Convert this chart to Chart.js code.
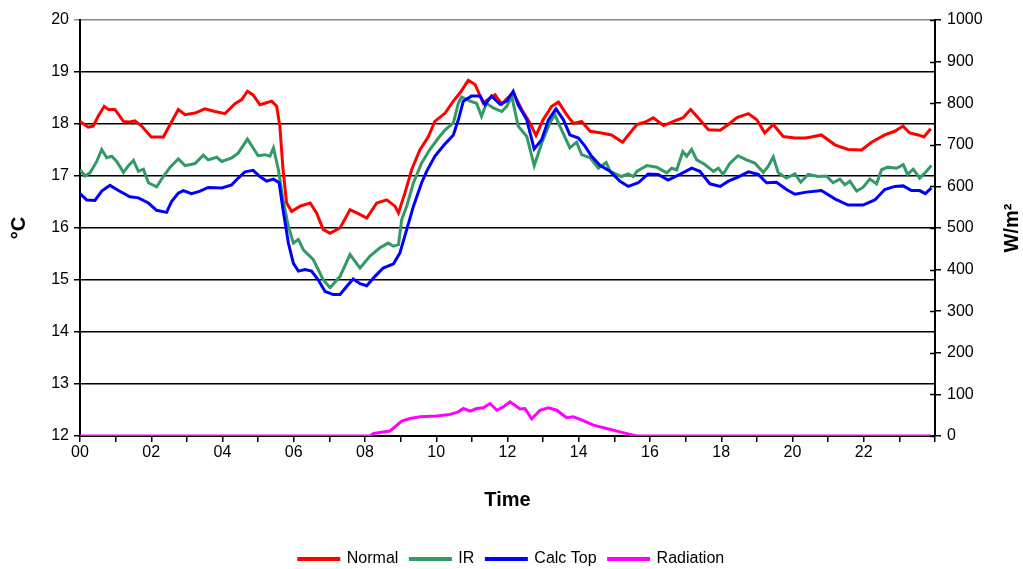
<!DOCTYPE html>
<html>
<head>
<meta charset="utf-8">
<script src="https://cdn.jsdelivr.net/npm/chart.js@4/dist/chart.umd.min.js"></script>
<style>
  html, body { margin: 0; padding: 0; background: #ffffff; }
  #wrap { width: 1023px; height: 569px; }
</style>
</head>
<body>
<div id="wrap"><canvas id="chart" width="1023" height="569"></canvas></div>
<script>
// Temperature traces over one day (hour of day -> °C)
const normalHours = [0,0.23,0.37,0.51,0.68,0.8,0.98,1.22,1.4,1.54,1.73,2.0,2.34,2.53,2.76,2.95,3.23,3.5,3.79,4.07,4.35,4.54,4.7,4.86,5.05,5.19,5.38,5.52,5.61,5.7,5.8,5.94,6.18,6.46,6.64,6.83,7.02,7.3,7.58,7.77,8.05,8.33,8.61,8.84,8.94,9.12,9.31,9.54,9.78,9.96,10.25,10.48,10.67,10.9,11.09,11.32,11.51,11.65,11.84,12.0,12.16,12.4,12.63,12.8,13.0,13.24,13.43,13.66,13.85,14.08,14.32,14.6,14.92,15.23,15.63,15.91,16.09,16.38,16.66,16.93,17.14,17.4,17.64,17.97,18.2,18.43,18.76,19.0,19.22,19.46,19.74,20.07,20.35,20.53,20.81,21.19,21.56,21.94,22.22,22.59,22.87,23.1,23.29,23.53,23.69,23.88];
const normalTemp = [18.05,17.94,17.96,18.15,18.34,18.28,18.28,18.05,18.04,18.06,17.96,17.75,17.75,17.99,18.28,18.18,18.21,18.29,18.24,18.2,18.39,18.47,18.63,18.56,18.37,18.4,18.44,18.34,17.96,17.12,16.48,16.32,16.42,16.48,16.29,15.97,15.9,16.0,16.35,16.29,16.19,16.48,16.54,16.42,16.29,16.67,17.12,17.5,17.76,18.05,18.21,18.44,18.6,18.84,18.76,18.4,18.5,18.56,18.38,18.5,18.6,18.28,18.02,17.78,18.08,18.34,18.42,18.18,18.01,18.05,17.86,17.83,17.79,17.65,17.99,18.05,18.12,17.97,18.05,18.12,18.28,18.08,17.89,17.88,17.99,18.12,18.2,18.08,17.83,17.99,17.76,17.73,17.73,17.75,17.79,17.6,17.51,17.5,17.65,17.79,17.86,17.96,17.83,17.79,17.75,17.91];

const irHours = [0,0.14,0.28,0.47,0.61,0.75,0.89,1.03,1.22,1.36,1.5,1.64,1.78,1.92,2.15,2.34,2.53,2.76,2.95,3.23,3.46,3.6,3.84,3.98,4.26,4.44,4.7,5.0,5.19,5.33,5.43,5.57,5.7,5.85,5.99,6.13,6.27,6.55,6.83,7.02,7.3,7.58,7.86,8.14,8.42,8.65,8.8,8.94,9.03,9.17,9.36,9.59,9.82,10.06,10.25,10.48,10.62,10.71,10.95,11.13,11.27,11.41,11.6,11.84,11.98,12.12,12.3,12.54,12.75,12.96,13.19,13.33,13.47,13.75,13.94,14.08,14.32,14.55,14.77,14.88,15.2,15.39,15.53,15.63,15.91,16.19,16.47,16.61,16.75,16.92,17.03,17.17,17.31,17.54,17.78,17.92,18.05,18.24,18.47,18.71,18.94,19.18,19.32,19.46,19.6,19.83,20.07,20.23,20.44,20.72,20.95,21.14,21.33,21.47,21.61,21.8,21.98,22.17,22.36,22.5,22.68,22.92,23.11,23.23,23.39,23.57,23.76,23.9];
const irTemp = [17.12,17.0,17.06,17.28,17.51,17.35,17.38,17.28,17.07,17.2,17.3,17.09,17.13,16.87,16.79,16.99,17.17,17.33,17.2,17.24,17.4,17.31,17.36,17.28,17.35,17.44,17.71,17.39,17.41,17.38,17.54,17.12,16.54,16.03,15.71,15.78,15.58,15.39,15.0,14.85,15.07,15.49,15.23,15.46,15.62,15.71,15.65,15.68,16.16,16.42,16.87,17.25,17.51,17.73,17.89,18.02,18.4,18.52,18.44,18.4,18.15,18.4,18.31,18.24,18.34,18.53,17.96,17.76,17.2,17.63,18.02,18.18,17.96,17.54,17.65,17.41,17.35,17.15,17.26,17.09,16.99,17.04,16.99,17.09,17.2,17.17,17.06,17.15,17.12,17.47,17.38,17.51,17.31,17.22,17.09,17.15,17.03,17.24,17.39,17.31,17.25,17.07,17.19,17.37,17.06,16.96,17.04,16.88,17.03,16.99,17.0,16.87,16.94,16.83,16.9,16.71,16.78,16.94,16.85,17.12,17.17,17.15,17.22,17.03,17.13,16.96,17.09,17.2];

const calcHours = [0,0.19,0.42,0.61,0.84,1.08,1.4,1.64,1.92,2.15,2.43,2.57,2.76,2.9,3.13,3.37,3.6,3.98,4.26,4.44,4.63,4.86,5.05,5.24,5.43,5.59,5.7,5.85,5.99,6.13,6.32,6.5,6.69,6.88,7.11,7.3,7.49,7.67,7.86,8.05,8.28,8.51,8.8,8.98,9.17,9.36,9.59,9.73,9.96,10.2,10.48,10.62,10.76,10.99,11.23,11.37,11.55,11.79,11.98,12.16,12.3,12.54,12.75,12.96,13.15,13.36,13.57,13.75,13.99,14.18,14.36,14.6,14.88,15.16,15.39,15.67,15.95,16.23,16.51,16.84,17.17,17.4,17.68,17.97,18.2,18.47,18.76,19.04,19.27,19.55,19.83,20.07,20.39,20.81,21.19,21.56,21.98,22.31,22.59,22.87,23.11,23.34,23.57,23.73,23.9];
const calcTemp = [16.66,16.54,16.53,16.71,16.82,16.72,16.6,16.58,16.48,16.34,16.3,16.51,16.67,16.72,16.66,16.71,16.78,16.77,16.83,16.96,17.08,17.11,16.99,16.9,16.94,16.87,16.35,15.71,15.32,15.17,15.2,15.17,15.0,14.78,14.72,14.72,14.88,15.02,14.93,14.89,15.07,15.23,15.31,15.52,15.97,16.42,16.87,17.09,17.38,17.58,17.79,18.08,18.44,18.54,18.54,18.37,18.54,18.38,18.44,18.63,18.37,18.08,17.52,17.7,18.08,18.29,18.08,17.79,17.73,17.57,17.38,17.2,17.09,16.9,16.8,16.87,17.04,17.03,16.92,17.03,17.15,17.09,16.85,16.8,16.9,16.98,17.08,17.03,16.87,16.88,16.74,16.65,16.69,16.72,16.56,16.44,16.44,16.54,16.74,16.8,16.81,16.72,16.72,16.66,16.77];

// Solar radiation (hour of day -> W/m²)
const radHours = [0,8.14,8.24,8.7,8.84,9.03,9.26,9.55,10.01,10.39,10.62,10.76,10.95,11.14,11.32,11.51,11.7,11.88,12.07,12.35,12.49,12.68,12.91,13.15,13.38,13.66,13.85,14.13,14.41,14.78,15.16,15.44,15.63,23.9];
const radValue = [0,0,6,12,22,36,42,46,48,52,58,66,60,66,68,78,62,70,82,65,66,41,62,68,62,44,46,37,26,18,10,4,0,0];

const seriesNames = ['Normal', 'IR', 'Calc Top', 'Radiation'];
const seriesColors = ['#ff0000', '#339966', '#0000ff', '#ff00ff'];
const rightTitle = 'W/m²';

const toPoints = (hs, vs) => hs.map((h, i) => ({ x: h, y: vs[i] }));
const FONT = 'Arial, "Liberation Sans", sans-serif';

// short marks on the inner side of the right-hand axis, plus its title
// written bottom-to-top like the left one
const rightAxisExtras = {
  id: 'rightAxisExtras',
  afterDraw(chart) {
    const s = chart.scales.yR;
    const ctx = chart.ctx;
    ctx.save();
    ctx.strokeStyle = '#000';
    ctx.lineWidth = 1.5;
    s.ticks.forEach(t => {
      const y = Math.round(s.getPixelForValue(t.value)) + 0.5;
      ctx.beginPath();
      ctx.moveTo(s.left - 5, y);
      ctx.lineTo(s.left, y);
      ctx.stroke();
    });
    const cy = (s.top + s.bottom) / 2;
    ctx.translate(s.right - 11, cy);
    ctx.rotate(-Math.PI / 2);
    ctx.fillStyle = '#000';
    ctx.font = 'bold 20px ' + FONT;
    ctx.textAlign = 'center';
    ctx.textBaseline = 'middle';
    ctx.fillText(rightTitle, 0, 0);
    ctx.restore();
  }
};

// fixed legend height so the plot keeps its size
const legendHeight = {
  id: 'legendHeight',
  beforeInit(chart) {
    const orig = chart.legend.fit;
    chart.legend.fit = function () {
      orig.call(this);
      this.height = 30;
    };
  }
};

const makeSet = (i, pts, axis, order) => ({
  label: seriesNames[i],
  data: pts,
  yAxisID: axis,
  borderColor: seriesColors[i],
  backgroundColor: seriesColors[i],
  borderWidth: 3,
  pointRadius: 0,
  tension: 0,
  order: order
});

new Chart(document.getElementById('chart'), {
  type: 'line',
  data: {
    datasets: [
      makeSet(0, toPoints(normalHours, normalTemp), 'y', 4),
      makeSet(1, toPoints(irHours, irTemp), 'y', 3),
      makeSet(2, toPoints(calcHours, calcTemp), 'y', 2),
      makeSet(3, toPoints(radHours, radValue), 'yR', 1)
    ]
  },
  plugins: [rightAxisExtras, legendHeight],
  options: {
    responsive: false,
    animation: false,
    layout: { padding: { top: 20, left: 0, right: 0, bottom: 0 } },
    plugins: {
      tooltip: { enabled: false },
      legend: {
        position: 'bottom',
        reverse: true,
        labels: {
          color: '#000',
          boxWidth: 40,
          boxHeight: 1,
          padding: 12,
          font: { family: FONT, size: 16 }
        }
      }
    },
    scales: {
      x: {
        type: 'linear',
        min: 0,
        max: 24,
        afterFit: s => { s.height = 103; },
        ticks: {
          stepSize: 1,
          autoSkip: false,
          maxRotation: 0,
          padding: 1,
          color: '#000',
          font: { family: FONT, size: 16 },
          callback: v => (v % 2 === 0 && v < 24) ? String(v).padStart(2, '0') : ''
        },
        grid: { drawOnChartArea: false, drawTicks: true, tickLength: 6, color: '#000', lineWidth: 1.5 },
        border: { display: true, color: '#000', width: 2 },
        title: {
          display: true,
          text: 'Time',
          color: '#000',
          font: { family: FONT, size: 20, weight: 'bold' },
          padding: { top: 0, bottom: 27 }
        }
      },
      y: {
        position: 'left',
        min: 12,
        max: 20,
        afterFit: s => { s.width = 80; },
        ticks: {
          stepSize: 1,
          padding: 5,
          color: '#000',
          font: { family: FONT, size: 16 }
        },
        grid: {
          drawTicks: true,
          tickLength: 6,
          lineWidth: 1.5,
          color: ctx => (ctx.tick && ctx.tick.value === 20) ? '#888888' : '#000000'
        },
        border: { display: true, color: '#000', width: 2 },
        title: {
          display: true,
          text: '°C',
          color: '#000',
          font: { family: FONT, size: 20, weight: 'bold' },
          padding: { top: 7, bottom: 0 }
        }
      },
      yR: {
        position: 'right',
        min: 0,
        max: 1000,
        afterFit: s => { s.width = 88; },
        ticks: {
          stepSize: 100,
          padding: 6,
          color: '#000',
          font: { family: FONT, size: 16 },
          callback: v => String(v)
        },
        grid: { drawOnChartArea: false, drawTicks: true, tickLength: 6, color: '#000', lineWidth: 1.5 },
        border: { display: true, color: '#000', width: 2 }
      }
    }
  }
});
</script>
</body>
</html>
